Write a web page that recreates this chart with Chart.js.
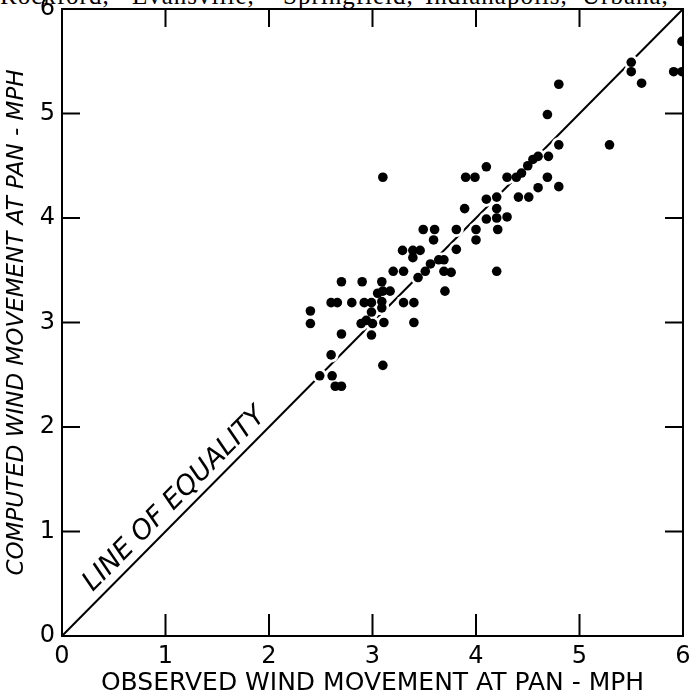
<!DOCTYPE html>
<html>
<head>
<meta charset="utf-8">
<script src="https://cdn.jsdelivr.net/npm/chart.js@4.4.1/dist/chart.umd.min.js"></script>
<style>
  html, body { margin:0; padding:0; background:#fff; overflow:hidden; }
  #wrap { position:relative; width:697px; height:698px; overflow:hidden; }
  #cut { position:absolute; left:0; top:-17px; width:697px; height:30px;
         font-family:'Liberation Serif','DejaVu Serif',serif; font-size:25px; line-height:25px; color:#000; white-space:nowrap; }
  #cut span { position:absolute; top:0; letter-spacing:1px; }
  canvas { position:absolute; left:0; top:0; }
</style>
</head>
<body>
<div id="wrap">
  <div id="cut"><span style="left:0">Rockford,</span><span style="left:132px">Evansville,</span><span style="left:283px">Springfield,</span><span style="left:425px">Indianapolis,</span><span style="left:582px">Urbana,</span></div>
  <canvas id="chart" width="697" height="698"></canvas>
</div>
<script>
// observed (x) vs computed (y) wind movement at pan, mph
const observed = [
  2.70, 2.90, 3.09, 3.20, 3.30, 3.05, 3.10, 3.17, 2.60, 2.66, 2.80, 2.92, 2.99, 3.09, 3.09, 2.99,
  3.30, 3.40, 2.40, 2.40, 2.89, 2.94, 3.00, 3.11, 3.40, 2.70, 2.99, 2.60, 3.10, 2.49, 2.61, 2.64, 2.70,
  3.10, 4.10, 3.90, 3.99, 4.30, 4.10, 4.20, 3.89, 4.20, 4.10, 4.20, 4.30, 4.00, 4.21, 4.00, 3.49,
  3.60, 3.59, 3.81, 3.81, 3.29, 3.39, 3.46, 3.39, 3.44, 3.51, 3.56, 3.64, 3.69, 3.69, 3.76, 4.20, 3.70,
  5.99, 5.50, 5.50, 5.60, 5.91, 5.99, 4.80, 4.69, 4.80, 5.29, 4.70, 4.60, 4.55, 4.50, 4.44, 4.39,
  4.69, 4.80, 4.60, 4.41, 4.51
];
const computed = [
  3.39, 3.39, 3.39, 3.49, 3.49, 3.28, 3.30, 3.30, 3.19, 3.19, 3.19, 3.19, 3.19, 3.20, 3.14, 3.10,
  3.19, 3.19, 3.11, 2.99, 2.99, 3.02, 2.99, 3.00, 3.00, 2.89, 2.88, 2.69, 2.59, 2.49, 2.49, 2.39, 2.39,
  4.39, 4.49, 4.39, 4.39, 4.39, 4.18, 4.20, 4.09, 4.09, 3.99, 4.00, 4.01, 3.89, 3.89, 3.79, 3.89,
  3.89, 3.79, 3.89, 3.70, 3.69, 3.69, 3.69, 3.62, 3.43, 3.49, 3.56, 3.60, 3.60, 3.49, 3.48, 3.49, 3.30,
  5.69, 5.49, 5.40, 5.29, 5.40, 5.40, 5.28, 4.99, 4.70, 4.70, 4.59, 4.59, 4.56, 4.50, 4.43, 4.39,
  4.39, 4.30, 4.29, 4.20, 4.20
];
const equality = [0, 6];
const axisTicks = [0, 1, 2, 3, 4, 5, 6];

const FONT = "'DejaVu Sans', sans-serif";
const points = observed.map((x, i) => ({ x: x, y: computed[i] }));

// inward tick marks, frame and the "line of equality" label
const frameTicks = {
  id: 'frameTicks',
  afterDatasetsDraw(chart) {
    const { ctx, chartArea: a, scales: { x, y } } = chart;
    ctx.save();
    ctx.strokeStyle = '#000';
    ctx.lineWidth = 2;
    ctx.strokeRect(a.left, a.top, a.right - a.left, a.bottom - a.top);
    ctx.beginPath();
    axisTicks.slice(1, -1).forEach(v => {
      const px = x.getPixelForValue(v), py = y.getPixelForValue(v);
      ctx.moveTo(px, a.bottom); ctx.lineTo(px, a.bottom - 22);
      ctx.moveTo(px, a.top);    ctx.lineTo(px, a.top + 18);
      ctx.moveTo(a.left, py);   ctx.lineTo(a.left + 18, py);
      ctx.moveTo(a.right, py);  ctx.lineTo(a.right - 18, py);
    });
    ctx.stroke();

    const x0 = x.getPixelForValue(0.36), y0 = y.getPixelForValue(0.36);
    const ang = Math.atan2(y.getPixelForValue(6) - y.getPixelForValue(0), x.getPixelForValue(6) - x.getPixelForValue(0));
    ctx.translate(x0, y0);
    ctx.rotate(ang);
    ctx.font = 'italic 27px ' + FONT;
    ctx.fillStyle = '#000';
    ctx.textBaseline = 'alphabetic';
    ctx.fillText('LINE OF EQUALITY', 0, -9);
    ctx.restore();
  }
};

new Chart(document.getElementById('chart').getContext('2d'), {
  type: 'scatter',
  data: {
    datasets: [
      { type: 'line', data: equality.map(v => ({ x: v, y: v })), borderColor: '#000', borderWidth: 2,
        pointRadius: 0, fill: false, order: 3 },
      { data: points, pointRadius: 7.5, pointBackgroundColor: '#fff', pointBorderWidth: 0, order: 2 },
      { data: points, pointRadius: 4.8, pointBackgroundColor: '#000', pointBorderWidth: 0, order: 1 }
    ]
  },
  options: {
    responsive: false, animation: false,
    layout: { padding: { top: 9, right: 14, left: 0, bottom: 0 } },
    plugins: { legend: { display: false }, tooltip: { enabled: false } },
    scales: {
      x: {
        type: 'linear', min: 0, max: 6,
        afterFit: s => { s.height = 62; s.paddingLeft = 0; s.paddingRight = 0; },
        afterBuildTicks: s => { s.ticks = axisTicks.map(v => ({ value: v })); },
        grid: { display: false, drawTicks: false }, border: { display: false },
        ticks: { color: '#000', padding: 6, font: { family: FONT, size: 24 } },
        title: { display: true, text: 'OBSERVED WIND MOVEMENT AT PAN - MPH', color: '#000',
                 padding: { top: 0, bottom: 0 }, font: { family: FONT, size: 25 } }
      },
      y: {
        type: 'linear', min: 0, max: 6,
        afterFit: s => { s.width = 62; s.paddingTop = 0; s.paddingBottom = 0; },
        afterBuildTicks: s => { s.ticks = axisTicks.map(v => ({ value: v })); },
        grid: { display: false, drawTicks: false }, border: { display: false },
        ticks: { color: '#000', padding: 7, font: { family: FONT, size: 24 } },
        title: { display: true, text: 'COMPUTED WIND MOVEMENT AT PAN - MPH', color: '#000',
                 padding: { top: 3, bottom: 0 }, font: { family: FONT, size: 23, style: 'italic' } }
      }
    }
  },
  plugins: [frameTicks]
});
</script>
</body>
</html>
